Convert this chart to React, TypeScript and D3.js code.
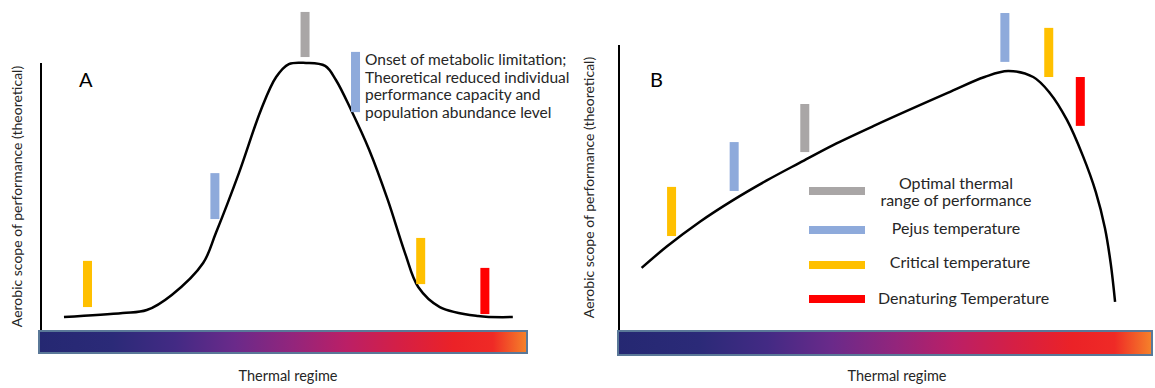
import React from "react";
import * as d3 from "d3";

// Panel A: curve (thermal regime 0-100, performance 0-100)
const curveAX = [5.3, 17.3, 22.2, 27.3, 33.7, 36.3, 41.0, 45.5, 48.6, 51.2, 54.7, 58.6, 60.8, 63.9, 67.6, 71.4, 74.9, 77.6, 82.0, 89.8, 96.9];
const curveAY = [4.8, 6.3, 7.4, 13.0, 24.8, 35.9, 58.1, 81.5, 93.7, 98.5, 98.9, 97.8, 92.6, 81.5, 66.7, 48.1, 28.5, 15.9, 8.5, 5.2, 4.8];

// Panel A markers
const markerAType = ["optimal", "pejus", "pejus", "critical", "critical", "denaturing"];
const markerAX = [54.5, 64.8, 36.1, 10.1, 78.1, 91.2];
const markerAY0 = [101.1, 80.7, 41.1, 8.5, 17.0, 5.9];
const markerAY1 = [117.8, 103.0, 58.1, 25.6, 34.1, 23.0];

// Panel B: curve
const curveBX = [4.6, 9.3, 15.5, 21.7, 28.0, 34.2, 40.4, 48.0, 61.8, 68.7, 73.1, 77.8, 80.9, 84.1, 87.1, 89.5, 91.2, 92.3, 93.1];
const curveBY = [23.0, 30.9, 40.1, 48.1, 55.4, 62.0, 68.5, 75.6, 87.8, 93.7, 95.9, 93.7, 87.8, 77.8, 64.4, 51.1, 37.8, 24.4, 10.4];

// Panel B markers
const markerBType = ["critical", "pejus", "optimal", "pejus", "critical", "denaturing"];
const markerBX = [10.2, 21.9, 35.1, 72.5, 80.7, 86.6];
const markerBY0 = [34.8, 51.5, 65.9, 99.3, 93.7, 75.6];
const markerBY1 = [53.0, 69.6, 83.7, 117.4, 111.9, 93.7];

const legendKeys = ["optimal", "pejus", "critical", "denaturing"];
const legendLabels = [["Optimal thermal", "range of performance"], ["Pejus temperature"], ["Critical temperature"], ["Denaturing Temperature"]];

const annotationLines = [
  "Onset of metabolic limitation;",
  "Theoretical reduced individual",
  "performance capacity and",
  "population abundance level",
];

const colors: Record<string, string> = {
  optimal: "#a9a6a6",
  pejus: "#8eaadb",
  critical: "#ffc000",
  denaturing: "#ff0000",
};

const gradStops = [
  [0, "#252872"],
  [0.15, "#2b2a78"],
  [0.28, "#432a84"],
  [0.4, "#6a2a8a"],
  [0.52, "#93257c"],
  [0.63, "#bb1f66"],
  [0.74, "#d51f45"],
  [0.85, "#eb2227"],
  [0.93, "#ef2a26"],
  [1, "#f5832a"],
];

const FONT = "Lato, 'Open Sans', sans-serif";
const TXT = "#262626";

function Panel(props: {
  id: string;
  letter: string;
  x0: number;
  x1: number;
  axisX: number;
  axisTop: number;
  barRight: number;
  barBottom: number;
  cx: number[];
  cy: number[];
  mType: string[];
  mX: number[];
  mY0: number[];
  mY1: number[];
  labelX: number;
  labelY: number;
  titleX: number;
  ylabelX: number;
}) {
  const xs = d3.scaleLinear().domain([0, 100]).range([props.x0, props.x1]);
  const ys = d3.scaleLinear().domain([0, 100]).range([330, 60]);
  const pts = props.cx.map((v, i) => [v, props.cy[i]] as [number, number]);
  const line = d3
    .line<[number, number]>()
    .x((d) => xs(d[0]))
    .y((d) => ys(d[1]))
    .curve(d3.curveCatmullRom.alpha(0.5));
  const yCenter = (props.axisTop + 330) / 2;
  return (
    <g>
      <defs>
        <linearGradient id={props.id} x1="0" x2="1" y1="0" y2="0">
          {gradStops.map((s, i) => (
            <stop key={i} offset={s[0] as number} stopColor={s[1] as string} />
          ))}
        </linearGradient>
      </defs>
      <line x1={props.axisX} x2={props.axisX} y1={props.axisTop} y2={331} stroke="#000" strokeWidth={2} />
      <rect
        x={props.x0 + 1}
        y={331}
        width={props.barRight - props.x0 - 2}
        height={props.barBottom - 332}
        fill={`url(#${props.id})`}
        stroke="#5a7898"
        strokeWidth={2}
      />
      <path d={line(pts) || ""} fill="none" stroke="#000" strokeWidth={2.5} />
      {props.mX.map((mx, i) => (
        <rect
          key={i}
          x={xs(mx) - 4.5}
          y={ys(props.mY1[i])}
          width={9}
          height={ys(props.mY0[i]) - ys(props.mY1[i])}
          fill={colors[props.mType[i]]}
        />
      ))}
      <text x={props.labelX} y={props.labelY} fontSize={20} fontFamily={FONT} fill="#000">
        {props.letter}
      </text>
      <text
        transform={`translate(${props.ylabelX},${yCenter}) rotate(-90)`}
        textAnchor="middle"
        fontSize={14}
        fontFamily={FONT}
        fill={TXT}
      >
        Aerobic scope of performance (theoretical)
      </text>
      <text x={props.titleX} y={381} textAnchor="middle" fontSize={14.5} fontFamily={FONT} fill={TXT}>
        Thermal regime
      </text>
    </g>
  );
}

export default function App() {
  return (
    <svg width={1155} height={388} style={{ position: "absolute", left: 0, top: 0, background: "#fff" }}>
      <Panel
        id="gradA"
        letter="A"
        x0={38}
        x1={528}
        axisX={41}
        axisTop={63}
        barRight={528}
        barBottom={354}
        cx={curveAX}
        cy={curveAY}
        mType={markerAType}
        mX={markerAX}
        mY0={markerAY0}
        mY1={markerAY1}
        labelX={79}
        labelY={87}
        titleX={288}
        ylabelX={22}
      />
      <Panel
        id="gradB"
        letter="B"
        x0={617}
        x1={1152}
        axisX={619}
        axisTop={45}
        barRight={1153}
        barBottom={356}
        cx={curveBX}
        cy={curveBY}
        mType={markerBType}
        mX={markerBX}
        mY0={markerBY0}
        mY1={markerBY1}
        labelX={650}
        labelY={87}
        titleX={897}
        ylabelX={594}
      />
      {annotationLines.map((t, i) => (
        <text key={i} x={365} y={65 + i * 17.5} fontSize={15.5} fontFamily={FONT} fill={TXT}>
          {t}
        </text>
      ))}
      {legendKeys.map((k, i) => {
        const ySw = [187, 226, 261, 295][i];
        return <rect key={k} x={809} y={ySw} width={56} height={8} fill={colors[k]} />;
      })}
      <text x={956} y={189} textAnchor="middle" fontSize={16} fontFamily={FONT} fill={TXT}>{legendLabels[0][0]}</text>
      <text x={956} y={206} textAnchor="middle" fontSize={16} fontFamily={FONT} fill={TXT}>{legendLabels[0][1]}</text>
      <text x={956} y={234} textAnchor="middle" fontSize={16} fontFamily={FONT} fill={TXT}>{legendLabels[1][0]}</text>
      <text x={960} y={268} textAnchor="middle" fontSize={16} fontFamily={FONT} fill={TXT}>{legendLabels[2][0]}</text>
      <text x={878} y={304} fontSize={16} fontFamily={FONT} fill={TXT}>{legendLabels[3][0]}</text>
    </svg>
  );
}
